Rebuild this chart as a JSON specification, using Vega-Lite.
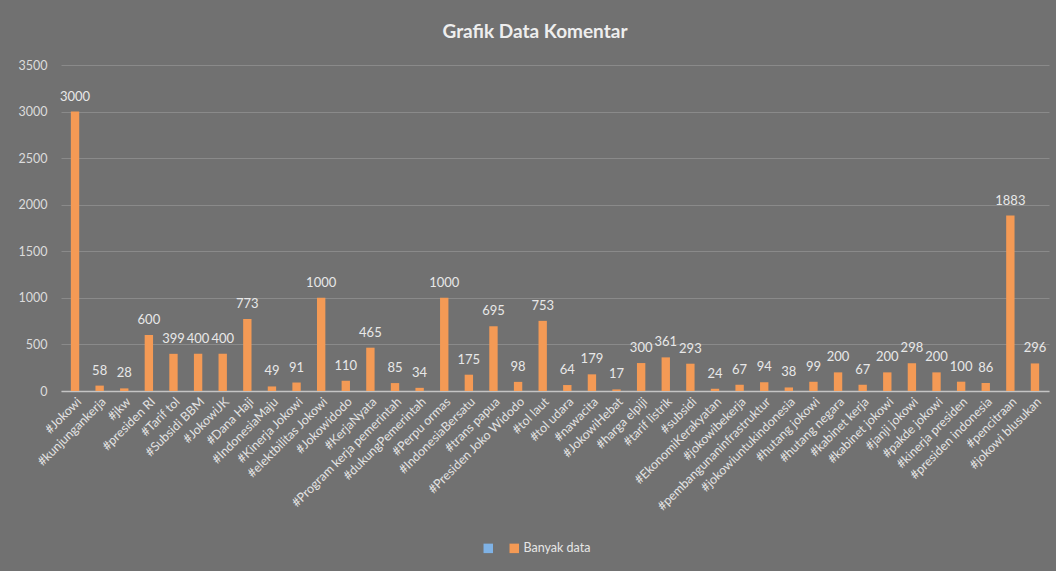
{
  "$schema": "https://vega.github.io/schema/vega-lite/v6.json",
  "autosize": {"type": "none"},
  "width": 988,
  "height": 326,
  "padding": {"left": 61, "top": 65, "right": 7, "bottom": 180},
  "background": "#717171",
  "config": {
    "view": {"stroke": null},
    "font": "Lato",
    "axis": {"labelFont": "Lato", "labelColor": "#dedede"}
  },
  "title": {
    "text": "Grafik Data Komentar",
    "font": "Lato",
    "fontSize": 19,
    "fontWeight": "bold",
    "color": "#eeeeee",
    "anchor": "middle",
    "dx": -20,
    "offset": 17
  },
  "data": {
    "values": [
      {"tag": "#Jokowi", "n": 3000, "s": "Banyak data"},
      {"tag": "#kunjungankerja", "n": 58, "s": "Banyak data"},
      {"tag": "#jkw", "n": 28, "s": "Banyak data"},
      {"tag": "#presiden RI", "n": 600, "s": "Banyak data"},
      {"tag": "#Tarif tol", "n": 399, "s": "Banyak data"},
      {"tag": "#Subsidi BBM", "n": 400, "s": "Banyak data"},
      {"tag": "#JokowiJK", "n": 400, "s": "Banyak data"},
      {"tag": "#Dana Haji", "n": 773, "s": "Banyak data"},
      {"tag": "#IndonesiaMaju", "n": 49, "s": "Banyak data"},
      {"tag": "#Kinerja Jokowi", "n": 91, "s": "Banyak data"},
      {"tag": "#elektbilitas Jokowi", "n": 1000, "s": "Banyak data"},
      {"tag": "#Jokowidodo", "n": 110, "s": "Banyak data"},
      {"tag": "#KerjaNyata", "n": 465, "s": "Banyak data"},
      {"tag": "#Program kerja pemerintah", "n": 85, "s": "Banyak data"},
      {"tag": "#dukungPemerintah", "n": 34, "s": "Banyak data"},
      {"tag": "#Perpu ormas", "n": 1000, "s": "Banyak data"},
      {"tag": "#IndonesiaBersatu", "n": 175, "s": "Banyak data"},
      {"tag": "#trans papua", "n": 695, "s": "Banyak data"},
      {"tag": "#Presiden Joko Widodo", "n": 98, "s": "Banyak data"},
      {"tag": "#tol laut", "n": 753, "s": "Banyak data"},
      {"tag": "#tol udara", "n": 64, "s": "Banyak data"},
      {"tag": "#nawacita", "n": 179, "s": "Banyak data"},
      {"tag": "#JokowiHebat", "n": 17, "s": "Banyak data"},
      {"tag": "#harga elpiji", "n": 300, "s": "Banyak data"},
      {"tag": "#tarif listrik", "n": 361, "s": "Banyak data"},
      {"tag": "#subsidi", "n": 293, "s": "Banyak data"},
      {"tag": "#EkonomiKerakyatan", "n": 24, "s": "Banyak data"},
      {"tag": "#jokowibekerja", "n": 67, "s": "Banyak data"},
      {"tag": "#pembangunaninfrastruktur", "n": 94, "s": "Banyak data"},
      {"tag": "#jokowiuntukindonesia", "n": 38, "s": "Banyak data"},
      {"tag": "#hutang jokowi", "n": 99, "s": "Banyak data"},
      {"tag": "#hutang negara", "n": 200, "s": "Banyak data"},
      {"tag": "#kabinet kerja", "n": 67, "s": "Banyak data"},
      {"tag": "#kabinet jokowi", "n": 200, "s": "Banyak data"},
      {"tag": "#janji jokowi", "n": 298, "s": "Banyak data"},
      {"tag": "#pakde jokowi", "n": 200, "s": "Banyak data"},
      {"tag": "#kinerja presiden", "n": 100, "s": "Banyak data"},
      {"tag": "#presiden indonesia", "n": 86, "s": "Banyak data"},
      {"tag": "#pencitraan", "n": 1883, "s": "Banyak data"},
      {"tag": "#jokowi blusukan", "n": 296, "s": "Banyak data"}
    ]
  },
  "encoding": {
    "x": {
      "field": "tag",
      "type": "nominal",
      "sort": null,
      "scale": {"paddingInner": 0.66, "paddingOuter": 0.4},
      "axis": {
        "title": null,
        "labelAngle": -45,
        "labelFontSize": 12.5,
        "labelColor": "#e2e2e2",
        "labelPadding": 4,
        "ticks": false,
        "domainColor": "#c4c4c4",
        "domainWidth": 1.5,
        "labelOverlap": false,
        "labelLimit": 300
      }
    },
    "y": {
      "field": "n",
      "type": "quantitative",
      "scale": {"domain": [0, 3500]},
      "axis": {
        "title": null,
        "values": [0, 500, 1000, 1500, 2000, 2500, 3000, 3500],
        "format": "d",
        "labelFontSize": 12.5,
        "labelColor": "#dcdcdc",
        "labelPadding": 14,
        "ticks": false,
        "domain": false,
        "gridColor": "#8a8a8a",
        "gridWidth": 1
      }
    }
  },
  "layer": [
    {
      "mark": {
        "type": "bar",
        "color": {
          "gradient": "linear",
          "x1": 0, "y1": 0, "x2": 1, "y2": 0,
          "stops": [
            {"offset": 0, "color": "#f08b3e"},
            {"offset": 0.5, "color": "#f7a66c"},
            {"offset": 1, "color": "#f08b3e"}
          ]
        }
      },
      "encoding": {
        "color": {
          "field": "s",
          "type": "nominal",
          "scale": {"domain": [" ", "Banyak data"], "range": ["#7fb2e5", "#f49a55"]},
          "legend": {
            "title": null,
            "orient": "none",
            "legendX": 421,
            "legendY": 477,
            "direction": "horizontal",
            "symbolType": "square",
            "symbolSize": 90,
            "symbolStrokeWidth": 0,
            "labelColor": "#e6e6e6",
            "labelFont": "Lato",
            "labelFontSize": 12.5,
            "labelOffset": 3,
            "columnPadding": 10
          }
        }
      }
    },
    {
      "mark": {"type": "text", "dy": -8, "baseline": "bottom", "fontSize": 13, "color": "#e8e8e8", "font": "Lato"},
      "encoding": {"text": {"field": "n", "type": "quantitative"}}
    }
  ]
}
